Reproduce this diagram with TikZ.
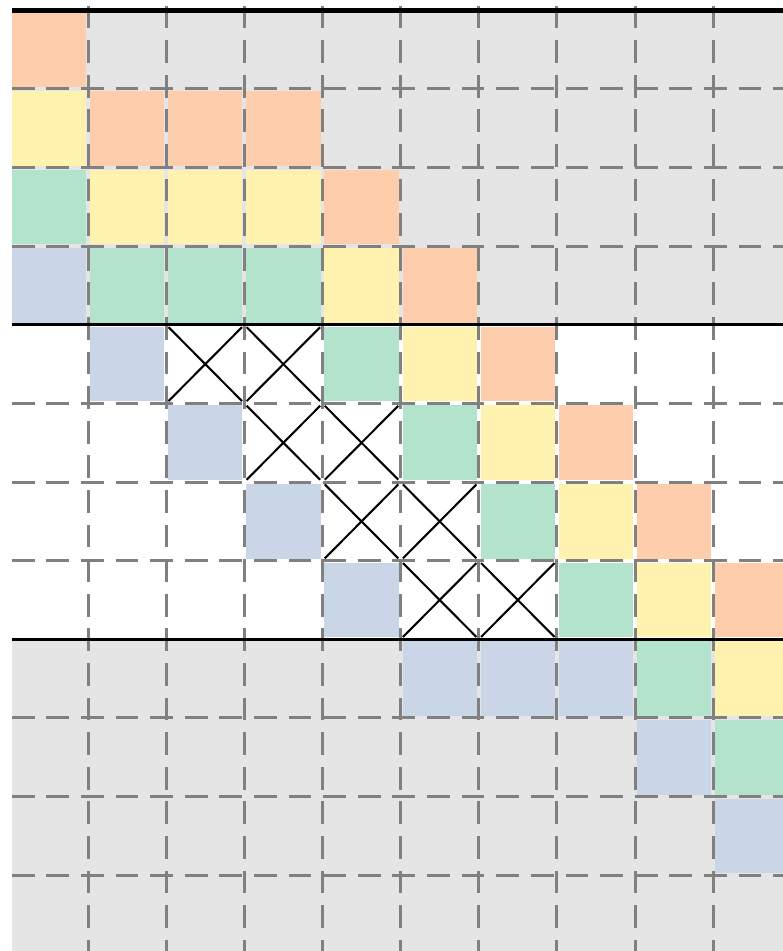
\documentclass[tikz,border=0pt]{standalone}
\usepackage{xcolor}
\usepackage{tikz}
\definecolor{cellorange}{HTML}{FDCDAC}
\definecolor{cellyellow}{HTML}{FFF2AE}
\definecolor{cellgreen}{HTML}{B3E2CD}
\definecolor{cellblue}{HTML}{CBD5E8}
\definecolor{bggray}{HTML}{E5E5E5}
\definecolor{gridgray}{HTML}{808080}

\begin{document}
\begin{tikzpicture}[x=1cm, y=1.0063cm,
    gridline/.style={gridgray, line width=1.1pt, dash pattern=on 8.3pt off 4.3pt},
    crossline/.style={black, line width=0.75pt},
    bandline/.style={black, line width=1pt}]
  \clip (-0.127,0.131) rectangle (9.894,-11.964);

  % Hintergrund oben und unten
  \fill[bggray] (0.025,0) rectangle (10.2,-4);
  \fill[bggray] (0.025,-8) rectangle (10.2,-12.3);

  % Farbige Zellen (Spalte/Zeile)
  \foreach \c/\r in {0/0,1/1,2/1,3/1,4/2,5/3,6/4,7/5,8/6,9/7}
    \fill[cellorange] (\c+0.025,-\r-0.025) rectangle (\c+0.975,-\r-0.975);
  \foreach \c/\r in {0/1,1/2,2/2,3/2,4/3,5/4,6/5,7/6,8/7,9/8}
    \fill[cellyellow] (\c+0.025,-\r-0.025) rectangle (\c+0.975,-\r-0.975);
  \foreach \c/\r in {0/2,1/3,2/3,3/3,4/4,5/5,6/6,7/7,8/8,9/9}
    \fill[cellgreen] (\c+0.025,-\r-0.025) rectangle (\c+0.975,-\r-0.975);
  \foreach \c/\r in {0/3,1/4,2/5,3/6,4/7,5/8,6/8,7/8,8/9,9/10}
    \fill[cellblue] (\c+0.025,-\r-0.025) rectangle (\c+0.975,-\r-0.975);

  % Gitter
  \foreach \c in {1,...,10}
    \draw[gridline] (\c,0.06) -- (\c,-12.3);
  \foreach \r in {1,2,3,5,6,7,9,10,11}
    \draw[gridline] (0.025,-\r) -- (10.2,-\r);

  % Gekreuzte Zellen
  \foreach \c/\r in {2/4,3/4,3/5,4/5,4/6,5/6,5/7,6/7} {
    \draw[crossline] (\c+0.03,-\r-0.03) -- (\c+0.97,-\r-0.97);
    \draw[crossline] (\c+0.03,-\r-0.97) -- (\c+0.97,-\r-0.03);
  }

  % Trennlinien
  \draw[black, line width=1.8pt] (0.025,0) -- (10.2,0);
  \draw[bandline] (0.025,-4) -- (10.2,-4);
  \draw[bandline] (0.025,-8) -- (10.2,-8);
\end{tikzpicture}
\end{document}
